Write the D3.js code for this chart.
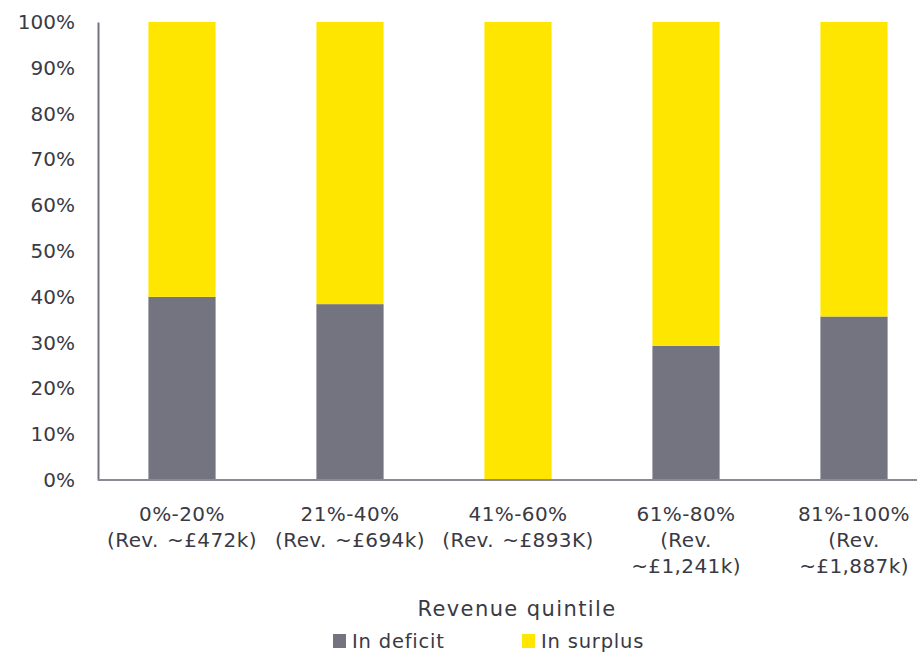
<!DOCTYPE html>
<html>
<head>
<meta charset="utf-8">
<script src="https://cdn.jsdelivr.net/npm/d3@7"></script>
<style>
  html, body { margin: 0; padding: 0; background: #fff; }
  svg { display: block; }
  text { font-family: "DejaVu Sans", sans-serif; fill: #3a3a44; }
</style>
</head>
<body>
<svg id="chart" width="917" height="653"></svg>
<script>
// Revenue quintiles (each label split into its printed lines)
const categories = ["0%-20%", "21%-40%", "41%-60%", "61%-80%", "81%-100%"];
const categoryLines = [
  ["0%-20%", "(Rev. ~£472k)"],
  ["21%-40%", "(Rev. ~£694k)"],
  ["41%-60%", "(Rev. ~£893K)"],
  ["61%-80%", "(Rev.", "~£1,241k)"],
  ["81%-100%", "(Rev.", "~£1,887k)"]
];
// Share of organisations in each position, per quintile
const inDeficit = [0.40, 0.384, 0.0, 0.293, 0.357];
const inSurplus = [0.60, 0.616, 1.0, 0.707, 0.643];
const seriesNames = ["In deficit", "In surplus"];
const seriesColors = ["#747480", "#FFE600"];
const yTicks = [0, 0.1, 0.2, 0.3, 0.4, 0.5, 0.6, 0.7, 0.8, 0.9, 1.0];

const svg = d3.select("#chart");
const margin = { left: 98, top: 22 };
const plotW = 840, plotH = 458;

const g = svg.append("g").attr("transform", `translate(${margin.left},${margin.top})`);

const x = d3.scaleBand().domain(categories).range([0, plotW]).paddingInner(0.6).paddingOuter(0.3);
const y = d3.scaleLinear().domain([0, 1]).range([plotH, 0]);

const rows = categories.map((c, i) => ({ cat: c, "In deficit": inDeficit[i], "In surplus": inSurplus[i] }));
const stacked = d3.stack().keys(seriesNames)(rows);

g.selectAll("g.series")
  .data(stacked)
  .join("g")
  .attr("class", "series")
  .attr("fill", (d, i) => seriesColors[i])
  .selectAll("rect")
  .data(d => d)
  .join("rect")
  .attr("x", d => x(d.data.cat))
  .attr("width", x.bandwidth())
  .attr("y", d => y(d[1]))
  .attr("height", d => y(d[0]) - y(d[1]));

// Y axis
const yAxis = d3.axisLeft(y).tickValues(yTicks).tickFormat(d3.format(".0%")).tickSize(0).tickPadding(23);
const yg = g.append("g").call(yAxis);
yg.select(".domain").attr("stroke", "#747480").attr("stroke-width", 2);
yg.selectAll("text").attr("font-size", 20).style("fill", "#3a3a44").attr("font-family", "DejaVu Sans, sans-serif");

// X axis line
g.append("line")
  .attr("x1", 0).attr("x2", plotW)
  .attr("y1", plotH).attr("y2", plotH)
  .attr("stroke", "#8a8a94").attr("stroke-width", 2);

// Category labels
const labels = g.append("g").selectAll("text")
  .data(categories)
  .join("text")
  .attr("text-anchor", "middle")
  .attr("font-size", 20)
  .attr("letter-spacing", 0.4)
  .attr("word-spacing", 1.5)
  .attr("x", d => x(d) + x.bandwidth() / 2)
  .attr("y", plotH + 41);
labels.selectAll("tspan")
  .data((d, i) => categoryLines[i])
  .join("tspan")
  .attr("x", function () { return d3.select(this.parentNode).attr("x"); })
  .attr("dy", (d, i) => i === 0 ? 0 : 26)
  .text(d => d);

// Axis title
svg.append("text")
  .attr("x", margin.left + plotW / 2 - 1)
  .attr("y", 616)
  .attr("text-anchor", "middle")
  .attr("font-size", 21)
  .attr("letter-spacing", 1.4)
  .text("Revenue quintile");

// Legend
const legendX = [333, 522];
const legend = svg.append("g").selectAll("g")
  .data(seriesNames)
  .join("g")
  .attr("transform", (d, i) => `translate(${legendX[i]},634)`);
legend.append("rect").attr("width", 13).attr("height", 14).attr("fill", (d, i) => seriesColors[i]);
legend.append("text").attr("x", 19).attr("y", 14).attr("font-size", 19.5)
  .attr("letter-spacing", 0.8).text(d => d);
</script>
</body>
</html>
